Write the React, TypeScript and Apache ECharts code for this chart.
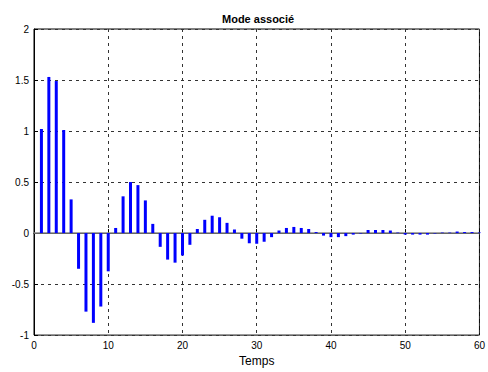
import React, { useEffect, useRef } from "react";
import * as echarts from "echarts";

const steps: number[] = Array.from({ length: 61 }, (_, i) => i);
const values: number[] = [
  0, 1.02, 1.53, 1.49, 1.01, 0.33, -0.35, -0.77, -0.88, -0.72,
  -0.375, 0.05, 0.36, 0.5, 0.47, 0.32, 0.09, -0.135, -0.26, -0.29,
  -0.22, -0.115, 0.04, 0.13, 0.17, 0.155, 0.1, 0.035, -0.055, -0.1,
  -0.105, -0.085, -0.04, 0.025, 0.05, 0.06, 0.05, 0.04, 0.01, -0.025,
  -0.04, -0.04, -0.03, -0.015, -0.005, 0.03, 0.03, 0.03, 0.025, 0.005,
  -0.015, -0.015, -0.015, -0.015, -0.005, 0.005, 0.005, 0.015, 0.01, 0.01,
  0.005,
];
const titleText = "Mode associé";
const xName = "Temps";

export default function App() {
  const ref = useRef<HTMLDivElement>(null);
  useEffect(() => {
    document.body.style.margin = "0";
    document.documentElement.style.overflow = "hidden";
    if (!ref.current) return;
    const chart = echarts.init(ref.current, undefined, { renderer: "svg", width: 488, height: 372 });
    const font = "Liberation Sans, Arial, sans-serif";
    chart.setOption({
      animation: false,
      backgroundColor: "#fff",
      title: {
        text: titleText,
        left: 217,
        top: 8,
        textStyle: { fontSize: 11, fontWeight: "bold", color: "#000", fontFamily: font },
      },
      grid: {
        left: 34,
        right: 7,
        top: 29,
        bottom: 31,
        show: true,
        borderColor: "#000",
        borderWidth: 1,
        backgroundColor: "#fff",
      },
      xAxis: {
        type: "value",
        min: 0,
        max: 60,
        interval: 10,
        name: xName,
        nameLocation: "middle",
        nameGap: 19,
        nameTextStyle: { fontSize: 12, color: "#000", fontFamily: font },
        axisLine: { show: true, lineStyle: { color: "#000" } },
        axisTick: { show: true, inside: true, length: 4, lineStyle: { color: "#000" } },
        axisLabel: { fontSize: 10, color: "#000", fontFamily: font, margin: 5, showMaxLabel: true },
        splitLine: { show: true, lineStyle: { color: "#333", type: [3, 4], width: 1 } },
      },
      yAxis: {
        type: "value",
        min: -1,
        max: 2,
        interval: 0.5,
        axisLine: { show: true, lineStyle: { color: "#000" } },
        axisTick: { show: true, inside: true, length: 4, lineStyle: { color: "#000" } },
        axisLabel: { fontSize: 10, color: "#000", fontFamily: font, margin: 5 },
        splitLine: { show: true, lineStyle: { color: "#333", type: [3, 4], width: 1 } },
      },
      series: [
        {
          type: "bar",
          data: steps.map((s, i) => [s, values[i]]),
          barWidth: 3,
          itemStyle: { color: "#0000ff" },
          markLine: {
            silent: true,
            symbol: "none",
            label: { show: false },
            lineStyle: { color: "#888", type: "solid", width: 1.5 },
            data: [{ yAxis: 0 }],
            z: 1,
          },
        },
      ],
    });
    return () => chart.dispose();
  }, []);
  return <div ref={ref} style={{ width: 488, height: 372 }} />;
}
